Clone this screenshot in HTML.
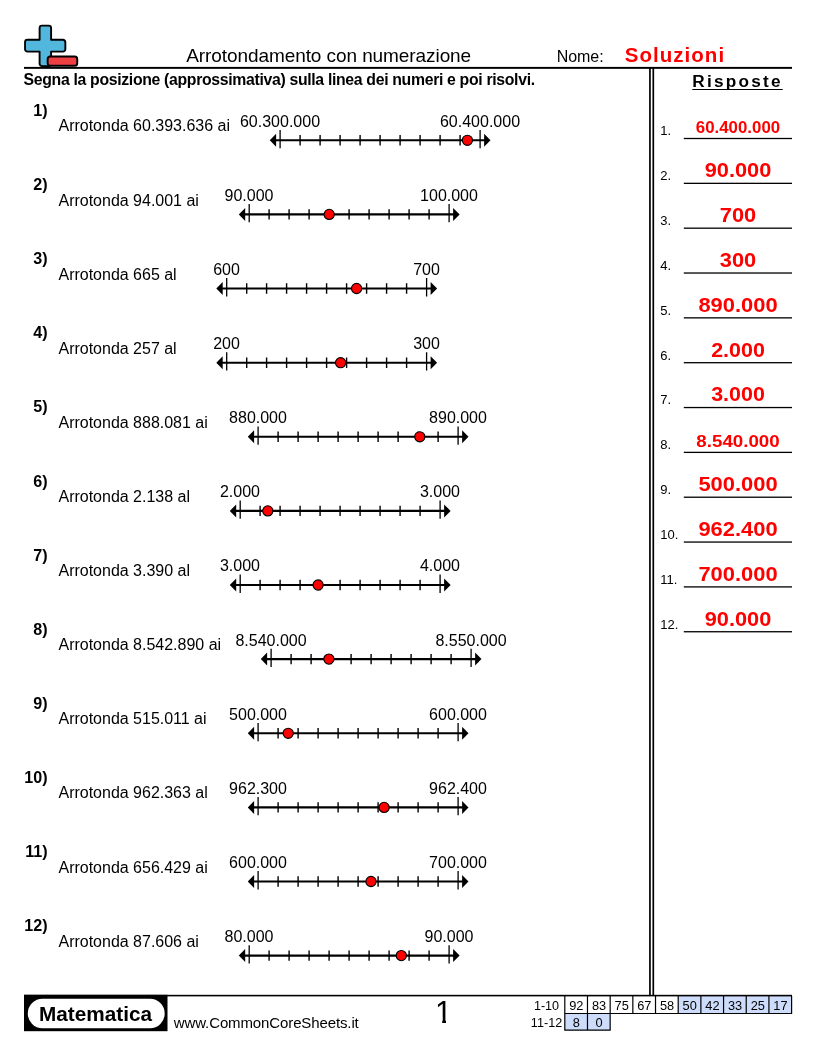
<!DOCTYPE html><html lang="it"><head><meta charset="utf-8"><title>Arrotondamento con numerazione</title><style>
html,body{margin:0;padding:0;background:#fff;width:816px;height:1056px;overflow:hidden;}
body{width:816px;height:1056px;position:relative;overflow:hidden;font-family:"Liberation Sans",sans-serif;color:#000;}
.t{position:absolute;white-space:nowrap;margin:0;padding:0;}
.u span{text-decoration:underline;text-decoration-thickness:1px;text-underline-offset:2px;text-decoration-skip-ink:none;}
.pn span{display:inline-block;clip-path:polygon(0 0,100% 0,100% 23px,11px 23px,11px 100%,7.2px 100%,7.2px 23px,0 23px);}
svg{position:absolute;left:0;top:0;}
#txt{position:absolute;left:0;top:0;width:816px;height:1056px;overflow:hidden;will-change:transform;}
</style></head><body>
<svg width="816" height="1056" viewBox="0 0 816 1056"><g stroke="#000" stroke-width="1.9" stroke-linejoin="round">
<path d="M42.0 25.65H48.7A2.4 2.4 0 0 1 51.1 28.04V39.8H62.94A2.4 2.4 0 0 1 65.35 42.19V49.2A2.4 2.4 0 0 1 62.94 51.6H51.1V63.69A2.4 2.4 0 0 1 48.7 66.1H42.0A2.4 2.4 0 0 1 39.6 63.69V51.6H27.45A2.4 2.4 0 0 1 25.05 49.2V42.19A2.4 2.4 0 0 1 27.45 39.8H39.6V28.04A2.4 2.4 0 0 1 42.0 25.65Z" fill="#52b7dd"/>
<rect x="47.65" y="56.5" width="29.6" height="9.3" rx="2.6" fill="#ee4043"/>
</g><rect x="678.20" y="996.0" width="22.68" height="17.5" fill="#cddcfb"/><rect x="700.88" y="996.0" width="22.68" height="17.5" fill="#cddcfb"/><rect x="723.56" y="996.0" width="22.68" height="17.5" fill="#cddcfb"/><rect x="746.24" y="996.0" width="22.68" height="17.5" fill="#cddcfb"/><rect x="768.92" y="996.0" width="22.68" height="17.5" fill="#cddcfb"/><rect x="564.80" y="1013.5" width="22.68" height="16.7" fill="#cddcfb"/><rect x="587.48" y="1013.5" width="22.68" height="16.7" fill="#cddcfb"/><path d="M564.80 996.0V1013.5M587.48 996.0V1013.5M610.16 996.0V1013.5M632.84 996.0V1013.5M655.52 996.0V1013.5M678.20 996.0V1013.5M700.88 996.0V1013.5M723.56 996.0V1013.5M746.24 996.0V1013.5M768.92 996.0V1013.5M791.60 996.0V1013.5M564.20 1013.5H792.20M564.80 1013.5V1030.2M587.48 1013.5V1030.2M610.16 1013.5V1030.2M564.20 1030.2H610.76" stroke="#000" stroke-width="1.2" fill="none"/><rect x="24" y="66.9" width="768" height="1.95"/>
<rect x="24" y="994.8" width="768" height="1.6"/>
<rect x="649.1" y="68" width="1.7" height="927.5"/>
<rect x="652.45" y="68" width="1.7" height="927.5"/>
<rect x="24" y="994.8" width="143.5" height="36.4"/>
<rect x="27.8" y="998.8" width="136.9" height="29.4" rx="14.7" fill="#fff"/><rect x="683.8" y="137.85" width="108.2" height="1.3"/><rect x="683.8" y="182.69" width="108.2" height="1.3"/><rect x="683.8" y="227.53" width="108.2" height="1.3"/><rect x="683.8" y="272.37" width="108.2" height="1.3"/><rect x="683.8" y="317.21" width="108.2" height="1.3"/><rect x="683.8" y="362.05" width="108.2" height="1.3"/><rect x="683.8" y="406.89" width="108.2" height="1.3"/><rect x="683.8" y="451.73" width="108.2" height="1.3"/><rect x="683.8" y="496.57" width="108.2" height="1.3"/><rect x="683.8" y="541.41" width="108.2" height="1.3"/><rect x="683.8" y="586.25" width="108.2" height="1.3"/><rect x="683.8" y="631.09" width="108.2" height="1.3"/><g><line x1="275.1" y1="140.3" x2="485.1" y2="140.3" stroke="#000" stroke-width="2.1"/><polygon points="269.8,140.3 276.1,133.8 276.1,146.8"/><polygon points="490.5,140.3 484.1,133.8 484.1,146.8"/><path d="M300.1 135.1V145.5M320.1 135.1V145.5M340.1 135.1V145.5M360.1 135.1V145.5M380.1 135.1V145.5M400.1 135.1V145.5M420.1 135.1V145.5M440.1 135.1V145.5M460.1 135.1V145.5" stroke="#000" stroke-width="1.4" fill="none"/><path d="M280.1 129.9V148.2M480.1 129.9V148.2" stroke="#000" stroke-width="1.3" fill="none"/><circle cx="467.4" cy="140.3" r="5.1" fill="#f00" stroke="#000" stroke-width="1.1"/></g><g><line x1="244.2" y1="214.4" x2="454.1" y2="214.4" stroke="#000" stroke-width="2.1"/><polygon points="238.8,214.4 245.2,207.9 245.2,220.9"/><polygon points="459.6,214.4 453.1,207.9 453.1,220.9"/><path d="M269.1 209.2V219.6M289.1 209.2V219.6M309.1 209.2V219.6M329.1 209.2V219.6M349.1 209.2V219.6M369.1 209.2V219.6M389.1 209.2V219.6M409.1 209.2V219.6M429.1 209.2V219.6" stroke="#000" stroke-width="1.4" fill="none"/><path d="M249.2 204.0V222.3M449.1 204.0V222.3" stroke="#000" stroke-width="1.3" fill="none"/><circle cx="329.2" cy="214.4" r="5.1" fill="#f00" stroke="#000" stroke-width="1.1"/></g><g><line x1="221.7" y1="288.5" x2="431.6" y2="288.5" stroke="#000" stroke-width="2.1"/><polygon points="216.3,288.5 222.7,282.0 222.7,295.0"/><polygon points="437.1,288.5 430.6,282.0 430.6,295.0"/><path d="M246.7 283.3V293.7M266.6 283.3V293.7M286.6 283.3V293.7M306.6 283.3V293.7M326.6 283.3V293.7M346.6 283.3V293.7M366.6 283.3V293.7M386.6 283.3V293.7M406.6 283.3V293.7" stroke="#000" stroke-width="1.4" fill="none"/><path d="M226.7 278.1V296.4M426.6 278.1V296.4" stroke="#000" stroke-width="1.3" fill="none"/><circle cx="356.6" cy="288.5" r="5.1" fill="#f00" stroke="#000" stroke-width="1.1"/></g><g><line x1="221.7" y1="362.7" x2="431.6" y2="362.7" stroke="#000" stroke-width="2.1"/><polygon points="216.3,362.7 222.7,356.2 222.7,369.2"/><polygon points="437.1,362.7 430.6,356.2 430.6,369.2"/><path d="M246.7 357.5V367.9M266.6 357.5V367.9M286.6 357.5V367.9M306.6 357.5V367.9M326.6 357.5V367.9M346.6 357.5V367.9M366.6 357.5V367.9M386.6 357.5V367.9M406.6 357.5V367.9" stroke="#000" stroke-width="1.4" fill="none"/><path d="M226.7 352.3V370.6M426.6 352.3V370.6" stroke="#000" stroke-width="1.3" fill="none"/><circle cx="340.6" cy="362.7" r="5.1" fill="#f00" stroke="#000" stroke-width="1.1"/></g><g><line x1="253.1" y1="436.8" x2="463.1" y2="436.8" stroke="#000" stroke-width="2.1"/><polygon points="247.8,436.8 254.1,430.3 254.1,443.3"/><polygon points="468.5,436.8 462.1,430.3 462.1,443.3"/><path d="M278.1 431.6V442.0M298.1 431.6V442.0M318.1 431.6V442.0M338.1 431.6V442.0M358.1 431.6V442.0M378.1 431.6V442.0M398.1 431.6V442.0M418.1 431.6V442.0M438.1 431.6V442.0" stroke="#000" stroke-width="1.4" fill="none"/><path d="M258.1 426.4V444.7M458.1 426.4V444.7" stroke="#000" stroke-width="1.3" fill="none"/><circle cx="419.8" cy="436.8" r="5.1" fill="#f00" stroke="#000" stroke-width="1.1"/></g><g><line x1="235.2" y1="510.9" x2="445.1" y2="510.9" stroke="#000" stroke-width="2.1"/><polygon points="229.8,510.9 236.2,504.4 236.2,517.4"/><polygon points="450.6,510.9 444.1,504.4 444.1,517.4"/><path d="M260.1 505.7V516.1M280.1 505.7V516.1M300.1 505.7V516.1M320.1 505.7V516.1M340.1 505.7V516.1M360.1 505.7V516.1M380.1 505.7V516.1M400.1 505.7V516.1M420.1 505.7V516.1" stroke="#000" stroke-width="1.4" fill="none"/><path d="M240.2 500.5V518.8M440.1 500.5V518.8" stroke="#000" stroke-width="1.3" fill="none"/><circle cx="267.8" cy="510.9" r="5.1" fill="#f00" stroke="#000" stroke-width="1.1"/></g><g><line x1="235.2" y1="585.0" x2="445.1" y2="585.0" stroke="#000" stroke-width="2.1"/><polygon points="229.8,585.0 236.2,578.5 236.2,591.5"/><polygon points="450.6,585.0 444.1,578.5 444.1,591.5"/><path d="M260.1 579.8V590.2M280.1 579.8V590.2M300.1 579.8V590.2M320.1 579.8V590.2M340.1 579.8V590.2M360.1 579.8V590.2M380.1 579.8V590.2M400.1 579.8V590.2M420.1 579.8V590.2" stroke="#000" stroke-width="1.4" fill="none"/><path d="M240.2 574.6V592.9M440.1 574.6V592.9" stroke="#000" stroke-width="1.3" fill="none"/><circle cx="318.1" cy="585.0" r="5.1" fill="#f00" stroke="#000" stroke-width="1.1"/></g><g><line x1="266.1" y1="659.1" x2="476.1" y2="659.1" stroke="#000" stroke-width="2.1"/><polygon points="260.8,659.1 267.1,652.6 267.1,665.6"/><polygon points="481.5,659.1 475.1,652.6 475.1,665.6"/><path d="M291.1 653.9V664.3M311.1 653.9V664.3M331.1 653.9V664.3M351.1 653.9V664.3M371.1 653.9V664.3M391.1 653.9V664.3M411.1 653.9V664.3M431.1 653.9V664.3M451.1 653.9V664.3" stroke="#000" stroke-width="1.4" fill="none"/><path d="M271.1 648.7V667.0M471.1 648.7V667.0" stroke="#000" stroke-width="1.3" fill="none"/><circle cx="328.9" cy="659.1" r="5.1" fill="#f00" stroke="#000" stroke-width="1.1"/></g><g><line x1="253.1" y1="733.3" x2="463.1" y2="733.3" stroke="#000" stroke-width="2.1"/><polygon points="247.8,733.3 254.1,726.8 254.1,739.8"/><polygon points="468.5,733.3 462.1,726.8 462.1,739.8"/><path d="M278.1 728.1V738.5M298.1 728.1V738.5M318.1 728.1V738.5M338.1 728.1V738.5M358.1 728.1V738.5M378.1 728.1V738.5M398.1 728.1V738.5M418.1 728.1V738.5M438.1 728.1V738.5" stroke="#000" stroke-width="1.4" fill="none"/><path d="M258.1 722.9V741.2M458.1 722.9V741.2" stroke="#000" stroke-width="1.3" fill="none"/><circle cx="288.2" cy="733.3" r="5.1" fill="#f00" stroke="#000" stroke-width="1.1"/></g><g><line x1="253.1" y1="807.4" x2="463.1" y2="807.4" stroke="#000" stroke-width="2.1"/><polygon points="247.8,807.4 254.1,800.9 254.1,813.9"/><polygon points="468.5,807.4 462.1,800.9 462.1,813.9"/><path d="M278.1 802.2V812.6M298.1 802.2V812.6M318.1 802.2V812.6M338.1 802.2V812.6M358.1 802.2V812.6M378.1 802.2V812.6M398.1 802.2V812.6M418.1 802.2V812.6M438.1 802.2V812.6" stroke="#000" stroke-width="1.4" fill="none"/><path d="M258.1 797.0V815.3M458.1 797.0V815.3" stroke="#000" stroke-width="1.3" fill="none"/><circle cx="384.1" cy="807.4" r="5.1" fill="#f00" stroke="#000" stroke-width="1.1"/></g><g><line x1="253.1" y1="881.5" x2="463.1" y2="881.5" stroke="#000" stroke-width="2.1"/><polygon points="247.8,881.5 254.1,875.0 254.1,888.0"/><polygon points="468.5,881.5 462.1,875.0 462.1,888.0"/><path d="M278.1 876.3V886.7M298.1 876.3V886.7M318.1 876.3V886.7M338.1 876.3V886.7M358.1 876.3V886.7M378.1 876.3V886.7M398.1 876.3V886.7M418.1 876.3V886.7M438.1 876.3V886.7" stroke="#000" stroke-width="1.4" fill="none"/><path d="M258.1 871.1V889.4M458.1 871.1V889.4" stroke="#000" stroke-width="1.3" fill="none"/><circle cx="371.0" cy="881.5" r="5.1" fill="#f00" stroke="#000" stroke-width="1.1"/></g><g><line x1="244.2" y1="955.6" x2="454.1" y2="955.6" stroke="#000" stroke-width="2.1"/><polygon points="238.8,955.6 245.2,949.1 245.2,962.1"/><polygon points="459.6,955.6 453.1,949.1 453.1,962.1"/><path d="M269.1 950.4V960.8M289.1 950.4V960.8M309.1 950.4V960.8M329.1 950.4V960.8M349.1 950.4V960.8M369.1 950.4V960.8M389.1 950.4V960.8M409.1 950.4V960.8M429.1 950.4V960.8" stroke="#000" stroke-width="1.4" fill="none"/><path d="M249.2 945.2V963.5M449.1 945.2V963.5" stroke="#000" stroke-width="1.3" fill="none"/><circle cx="401.3" cy="955.6" r="5.1" fill="#f00" stroke="#000" stroke-width="1.1"/></g></svg>
<div id="txt">
<div class="t" id="t0" style="top:44.00px;font-size:19px;line-height:23px;letter-spacing:-0.079px;left:186.20px;"><span>Arrotondamento con numerazione</span></div>
<div class="t" id="t1" style="top:47.00px;font-size:16px;line-height:19px;letter-spacing:-0.081px;left:556.80px;"><span>Nome:</span></div>
<div class="t" id="t2" style="top:42.00px;font-size:20.5px;line-height:25px;font-weight:700;color:#f00;letter-spacing:1.024px;left:624.80px;"><span>Soluzioni</span></div>
<div class="t" id="t3" style="top:70.00px;font-size:15.8px;line-height:19px;font-weight:700;letter-spacing:-0.321px;left:23.60px;"><span>Segna la posizione (approssimativa) sulla linea dei numeri e poi risolvi.</span></div>
<div class="t u" id="t4" style="top:71.00px;font-size:17.2px;line-height:21px;font-weight:700;letter-spacing:2.229px;left:692.30px;"><span>Risposte</span></div>
<div class="t" id="t5" style="top:101.00px;font-size:16.1px;line-height:19px;font-weight:700;right:768.40px;"><span>1)</span></div>
<div class="t" id="t6" style="top:116.00px;font-size:16px;line-height:19px;letter-spacing:-0.010px;left:58.50px;"><span>Arrotonda 60.393.636 ai</span></div>
<div class="t" id="t7" style="top:112.00px;font-size:16px;line-height:19px;left:205.00px;width:150px;text-align:center;"><span>60.300.000</span></div>
<div class="t" id="t8" style="top:112.00px;font-size:16px;line-height:19px;left:405.00px;width:150px;text-align:center;"><span>60.400.000</span></div>
<div class="t" id="t9" style="top:175.00px;font-size:16.1px;line-height:19px;font-weight:700;right:768.40px;"><span>2)</span></div>
<div class="t" id="t10" style="top:191.00px;font-size:16px;line-height:19px;letter-spacing:-0.010px;left:58.50px;"><span>Arrotonda 94.001 ai</span></div>
<div class="t" id="t11" style="top:186.00px;font-size:16px;line-height:19px;left:174.00px;width:150px;text-align:center;"><span>90.000</span></div>
<div class="t" id="t12" style="top:186.00px;font-size:16px;line-height:19px;left:374.00px;width:150px;text-align:center;"><span>100.000</span></div>
<div class="t" id="t13" style="top:249.00px;font-size:16.1px;line-height:19px;font-weight:700;right:768.40px;"><span>3)</span></div>
<div class="t" id="t14" style="top:265.00px;font-size:16px;line-height:19px;letter-spacing:-0.010px;left:58.50px;"><span>Arrotonda 665 al</span></div>
<div class="t" id="t15" style="top:260.00px;font-size:16px;line-height:19px;left:151.50px;width:150px;text-align:center;"><span>600</span></div>
<div class="t" id="t16" style="top:260.00px;font-size:16px;line-height:19px;left:351.50px;width:150px;text-align:center;"><span>700</span></div>
<div class="t" id="t17" style="top:323.00px;font-size:16.1px;line-height:19px;font-weight:700;right:768.40px;"><span>4)</span></div>
<div class="t" id="t18" style="top:339.00px;font-size:16px;line-height:19px;letter-spacing:-0.010px;left:58.50px;"><span>Arrotonda 257 al</span></div>
<div class="t" id="t19" style="top:334.00px;font-size:16px;line-height:19px;left:151.50px;width:150px;text-align:center;"><span>200</span></div>
<div class="t" id="t20" style="top:334.00px;font-size:16px;line-height:19px;left:351.50px;width:150px;text-align:center;"><span>300</span></div>
<div class="t" id="t21" style="top:397.00px;font-size:16.1px;line-height:19px;font-weight:700;right:768.40px;"><span>5)</span></div>
<div class="t" id="t22" style="top:413.00px;font-size:16px;line-height:19px;letter-spacing:-0.010px;left:58.50px;"><span>Arrotonda 888.081 ai</span></div>
<div class="t" id="t23" style="top:408.00px;font-size:16px;line-height:19px;left:183.00px;width:150px;text-align:center;"><span>880.000</span></div>
<div class="t" id="t24" style="top:408.00px;font-size:16px;line-height:19px;left:383.00px;width:150px;text-align:center;"><span>890.000</span></div>
<div class="t" id="t25" style="top:472.00px;font-size:16.1px;line-height:19px;font-weight:700;right:768.40px;"><span>6)</span></div>
<div class="t" id="t26" style="top:487.00px;font-size:16px;line-height:19px;letter-spacing:-0.010px;left:58.50px;"><span>Arrotonda 2.138 al</span></div>
<div class="t" id="t27" style="top:482.00px;font-size:16px;line-height:19px;left:165.00px;width:150px;text-align:center;"><span>2.000</span></div>
<div class="t" id="t28" style="top:482.00px;font-size:16px;line-height:19px;left:365.00px;width:150px;text-align:center;"><span>3.000</span></div>
<div class="t" id="t29" style="top:546.00px;font-size:16.1px;line-height:19px;font-weight:700;right:768.40px;"><span>7)</span></div>
<div class="t" id="t30" style="top:561.00px;font-size:16px;line-height:19px;letter-spacing:-0.010px;left:58.50px;"><span>Arrotonda 3.390 al</span></div>
<div class="t" id="t31" style="top:556.00px;font-size:16px;line-height:19px;left:165.00px;width:150px;text-align:center;"><span>3.000</span></div>
<div class="t" id="t32" style="top:556.00px;font-size:16px;line-height:19px;left:365.00px;width:150px;text-align:center;"><span>4.000</span></div>
<div class="t" id="t33" style="top:620.00px;font-size:16.1px;line-height:19px;font-weight:700;right:768.40px;"><span>8)</span></div>
<div class="t" id="t34" style="top:635.00px;font-size:16px;line-height:19px;letter-spacing:-0.010px;left:58.50px;"><span>Arrotonda 8.542.890 ai</span></div>
<div class="t" id="t35" style="top:631.00px;font-size:16px;line-height:19px;left:196.00px;width:150px;text-align:center;"><span>8.540.000</span></div>
<div class="t" id="t36" style="top:631.00px;font-size:16px;line-height:19px;left:396.00px;width:150px;text-align:center;"><span>8.550.000</span></div>
<div class="t" id="t37" style="top:694.00px;font-size:16.1px;line-height:19px;font-weight:700;right:768.40px;"><span>9)</span></div>
<div class="t" id="t38" style="top:709.00px;font-size:16px;line-height:19px;letter-spacing:-0.010px;left:58.50px;"><span>Arrotonda 515.011 ai</span></div>
<div class="t" id="t39" style="top:705.00px;font-size:16px;line-height:19px;left:183.00px;width:150px;text-align:center;"><span>500.000</span></div>
<div class="t" id="t40" style="top:705.00px;font-size:16px;line-height:19px;left:383.00px;width:150px;text-align:center;"><span>600.000</span></div>
<div class="t" id="t41" style="top:768.00px;font-size:16.1px;line-height:19px;font-weight:700;right:768.40px;"><span>10)</span></div>
<div class="t" id="t42" style="top:783.00px;font-size:16px;line-height:19px;letter-spacing:-0.010px;left:58.50px;"><span>Arrotonda 962.363 al</span></div>
<div class="t" id="t43" style="top:779.00px;font-size:16px;line-height:19px;left:183.00px;width:150px;text-align:center;"><span>962.300</span></div>
<div class="t" id="t44" style="top:779.00px;font-size:16px;line-height:19px;left:383.00px;width:150px;text-align:center;"><span>962.400</span></div>
<div class="t" id="t45" style="top:842.00px;font-size:16.1px;line-height:19px;font-weight:700;right:768.40px;"><span>11)</span></div>
<div class="t" id="t46" style="top:858.00px;font-size:16px;line-height:19px;letter-spacing:-0.010px;left:58.50px;"><span>Arrotonda 656.429 ai</span></div>
<div class="t" id="t47" style="top:853.00px;font-size:16px;line-height:19px;left:183.00px;width:150px;text-align:center;"><span>600.000</span></div>
<div class="t" id="t48" style="top:853.00px;font-size:16px;line-height:19px;left:383.00px;width:150px;text-align:center;"><span>700.000</span></div>
<div class="t" id="t49" style="top:916.00px;font-size:16.1px;line-height:19px;font-weight:700;right:768.40px;"><span>12)</span></div>
<div class="t" id="t50" style="top:932.00px;font-size:16px;line-height:19px;letter-spacing:-0.010px;left:58.50px;"><span>Arrotonda 87.606 ai</span></div>
<div class="t" id="t51" style="top:927.00px;font-size:16px;line-height:19px;left:174.00px;width:150px;text-align:center;"><span>80.000</span></div>
<div class="t" id="t52" style="top:927.00px;font-size:16px;line-height:19px;left:374.00px;width:150px;text-align:center;"><span>90.000</span></div>
<div class="t" id="t53" style="top:123.00px;font-size:13px;line-height:16px;left:660.20px;"><span>1.</span></div>
<div class="t" id="t54" style="top:118.00px;font-size:15.6px;line-height:19px;font-weight:700;color:#f00;left:662.70px;width:150px;text-align:center;transform:scaleX(1.0802);transform-origin:center center;"><span>60.400.000</span></div>
<div class="t" id="t55" style="top:168.00px;font-size:13px;line-height:16px;left:660.20px;"><span>2.</span></div>
<div class="t" id="t56" style="top:157.00px;font-size:20.8px;line-height:25px;font-weight:700;color:#f00;left:662.70px;width:150px;text-align:center;transform:scaleX(1.0464);transform-origin:center center;"><span>90.000</span></div>
<div class="t" id="t57" style="top:213.00px;font-size:13px;line-height:16px;left:660.20px;"><span>3.</span></div>
<div class="t" id="t58" style="top:202.00px;font-size:20.8px;line-height:25px;font-weight:700;color:#f00;left:662.70px;width:150px;text-align:center;transform:scaleX(1.0478);transform-origin:center center;"><span>700</span></div>
<div class="t" id="t59" style="top:258.00px;font-size:13px;line-height:16px;left:660.20px;"><span>4.</span></div>
<div class="t" id="t60" style="top:247.00px;font-size:20.8px;line-height:25px;font-weight:700;color:#f00;left:662.70px;width:150px;text-align:center;transform:scaleX(1.0478);transform-origin:center center;"><span>300</span></div>
<div class="t" id="t61" style="top:303.00px;font-size:13px;line-height:16px;left:660.20px;"><span>5.</span></div>
<div class="t" id="t62" style="top:292.00px;font-size:20.8px;line-height:25px;font-weight:700;color:#f00;left:662.70px;width:150px;text-align:center;transform:scaleX(1.0530);transform-origin:center center;"><span>890.000</span></div>
<div class="t" id="t63" style="top:348.00px;font-size:13px;line-height:16px;left:660.20px;"><span>6.</span></div>
<div class="t" id="t64" style="top:337.00px;font-size:20.8px;line-height:25px;font-weight:700;color:#f00;left:662.70px;width:150px;text-align:center;transform:scaleX(1.0306);transform-origin:center center;"><span>2.000</span></div>
<div class="t" id="t65" style="top:392.00px;font-size:13px;line-height:16px;left:660.20px;"><span>7.</span></div>
<div class="t" id="t66" style="top:381.00px;font-size:20.8px;line-height:25px;font-weight:700;color:#f00;left:662.70px;width:150px;text-align:center;transform:scaleX(1.0306);transform-origin:center center;"><span>3.000</span></div>
<div class="t" id="t67" style="top:437.00px;font-size:13px;line-height:16px;left:660.20px;"><span>8.</span></div>
<div class="t" id="t68" style="top:431.00px;font-size:17.2px;line-height:21px;font-weight:700;color:#f00;left:662.70px;width:150px;text-align:center;transform:scaleX(1.0895);transform-origin:center center;"><span>8.540.000</span></div>
<div class="t" id="t69" style="top:482.00px;font-size:13px;line-height:16px;left:660.20px;"><span>9.</span></div>
<div class="t" id="t70" style="top:471.00px;font-size:20.8px;line-height:25px;font-weight:700;color:#f00;left:662.70px;width:150px;text-align:center;transform:scaleX(1.0530);transform-origin:center center;"><span>500.000</span></div>
<div class="t" id="t71" style="top:527.00px;font-size:13px;line-height:16px;left:660.20px;"><span>10.</span></div>
<div class="t" id="t72" style="top:516.00px;font-size:20.8px;line-height:25px;font-weight:700;color:#f00;left:662.70px;width:150px;text-align:center;transform:scaleX(1.0530);transform-origin:center center;"><span>962.400</span></div>
<div class="t" id="t73" style="top:572.00px;font-size:13px;line-height:16px;left:660.20px;"><span>11.</span></div>
<div class="t" id="t74" style="top:561.00px;font-size:20.8px;line-height:25px;font-weight:700;color:#f00;left:662.70px;width:150px;text-align:center;transform:scaleX(1.0530);transform-origin:center center;"><span>700.000</span></div>
<div class="t" id="t75" style="top:617.00px;font-size:13px;line-height:16px;left:660.20px;"><span>12.</span></div>
<div class="t" id="t76" style="top:606.00px;font-size:20.8px;line-height:25px;font-weight:700;color:#f00;left:662.70px;width:150px;text-align:center;transform:scaleX(1.0464);transform-origin:center center;"><span>90.000</span></div>
<div class="t" id="t77" style="top:1002.00px;font-size:19.6px;line-height:24px;font-weight:700;left:39.00px;transform:scaleX(1.0586);transform-origin:left center;"><span>Matematica</span></div>
<div class="t" id="t78" style="top:1014.00px;font-size:15px;line-height:18px;letter-spacing:-0.117px;left:173.80px;"><span>www.CommonCoreSheets.it</span></div>
<div class="t pn" id="t79" style="top:994.00px;font-size:30.6px;line-height:37px;left:435.00px;"><span>1</span></div>
<div class="t" id="t80" style="top:999.00px;font-size:12.6px;line-height:15px;left:471.50px;width:150px;text-align:center;"><span>1-10</span></div>
<div class="t" id="t81" style="top:1016.00px;font-size:12.6px;line-height:15px;left:471.50px;width:150px;text-align:center;"><span>11-12</span></div>
<div class="t" id="t82" style="top:998.00px;font-size:12.8px;line-height:15px;left:501.34px;width:150px;text-align:center;"><span>92</span></div>
<div class="t" id="t83" style="top:998.00px;font-size:12.8px;line-height:15px;left:524.02px;width:150px;text-align:center;"><span>83</span></div>
<div class="t" id="t84" style="top:998.00px;font-size:12.8px;line-height:15px;left:546.70px;width:150px;text-align:center;"><span>75</span></div>
<div class="t" id="t85" style="top:998.00px;font-size:12.8px;line-height:15px;left:569.38px;width:150px;text-align:center;"><span>67</span></div>
<div class="t" id="t86" style="top:998.00px;font-size:12.8px;line-height:15px;left:592.06px;width:150px;text-align:center;"><span>58</span></div>
<div class="t" id="t87" style="top:998.00px;font-size:12.8px;line-height:15px;left:614.74px;width:150px;text-align:center;"><span>50</span></div>
<div class="t" id="t88" style="top:998.00px;font-size:12.8px;line-height:15px;left:637.42px;width:150px;text-align:center;"><span>42</span></div>
<div class="t" id="t89" style="top:998.00px;font-size:12.8px;line-height:15px;left:660.10px;width:150px;text-align:center;"><span>33</span></div>
<div class="t" id="t90" style="top:998.00px;font-size:12.8px;line-height:15px;left:682.78px;width:150px;text-align:center;"><span>25</span></div>
<div class="t" id="t91" style="top:998.00px;font-size:12.8px;line-height:15px;left:705.46px;width:150px;text-align:center;"><span>17</span></div>
<div class="t" id="t92" style="top:1015.00px;font-size:12.8px;line-height:15px;left:501.34px;width:150px;text-align:center;"><span>8</span></div>
<div class="t" id="t93" style="top:1015.00px;font-size:12.8px;line-height:15px;left:524.02px;width:150px;text-align:center;"><span>0</span></div>
</div>
</body></html>
